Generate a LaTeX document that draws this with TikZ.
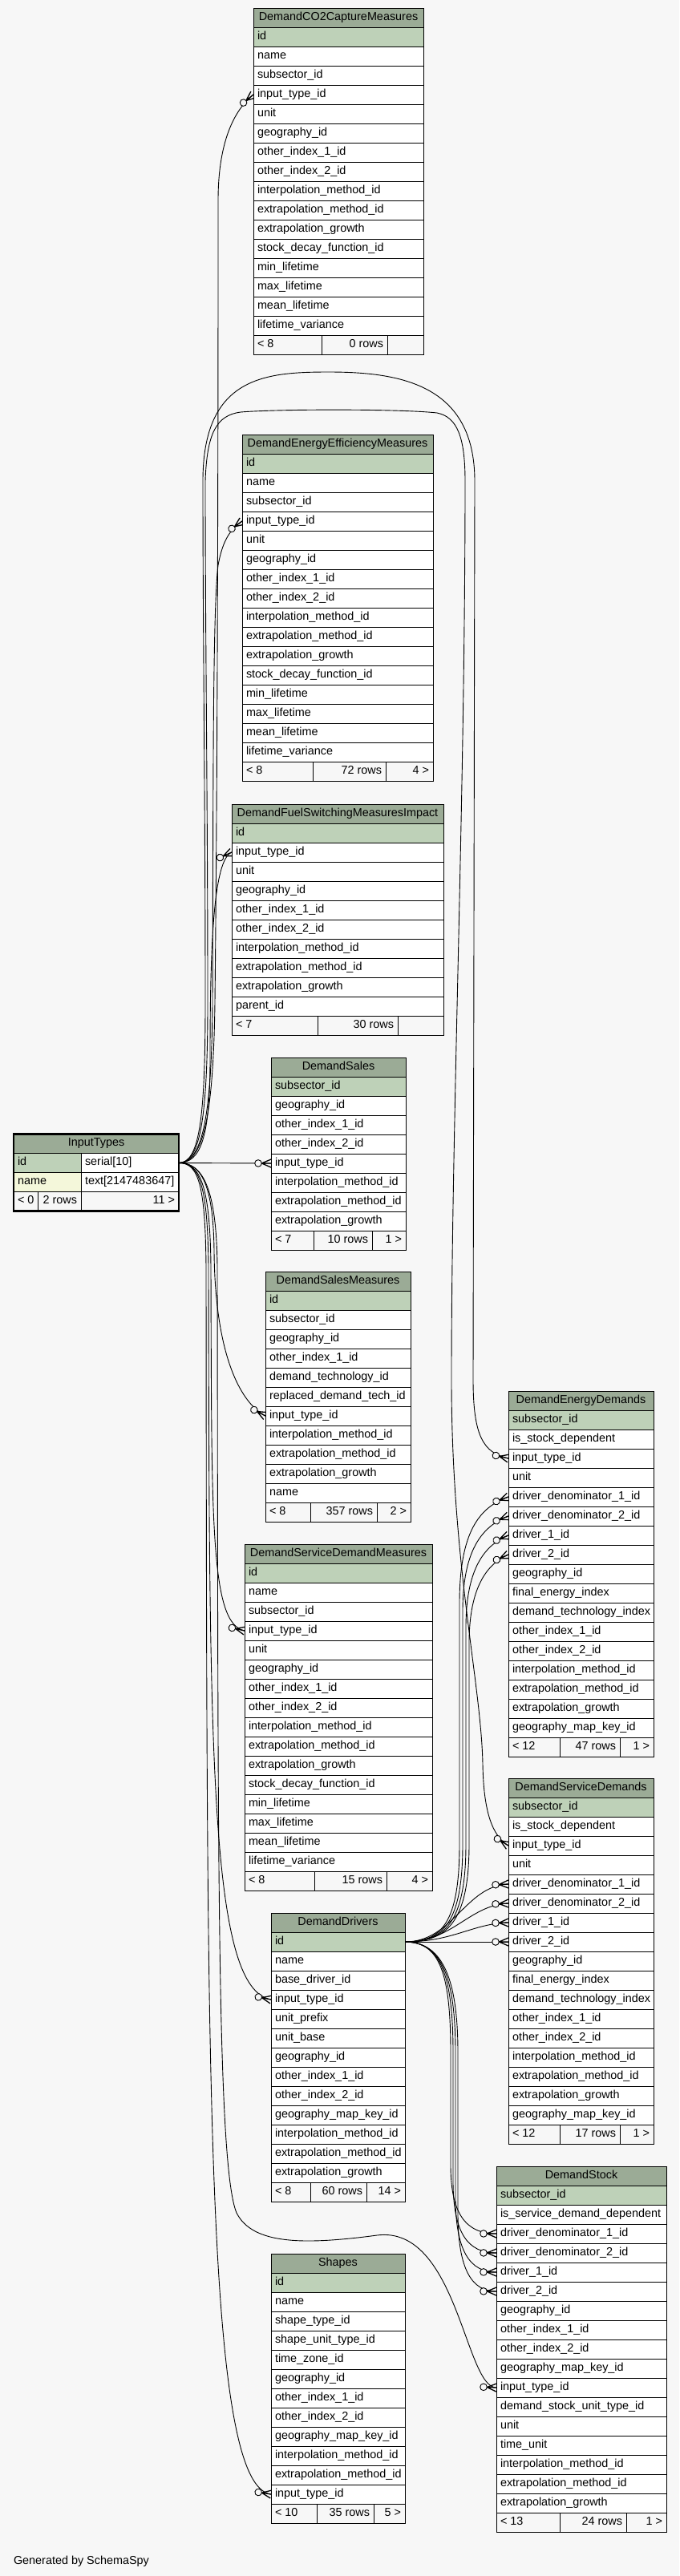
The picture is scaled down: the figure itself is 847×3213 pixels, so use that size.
\documentclass[tikz,border=0pt]{standalone}
\usepackage{fontspec}
\setmainfont{Liberation Sans}
\usetikzlibrary{decorations.markings}
\definecolor{hdrc}{HTML}{9BAB96}
\definecolor{pkc}{HTML}{BED1B8}
\definecolor{idxc}{HTML}{F4F7DA}
\definecolor{bgc}{HTML}{F7F7F7}
\pgfdeclarelayer{bglayer}
\pgfdeclarelayer{wires}
\pgfsetlayers{bglayer,wires,main}
\tikzset{
 cellbox/.style={draw=black, line width=1pt, rectangle, anchor=north west, minimum height=24pt, inner sep=0pt, outer sep=0pt},
 celltext/.style={inner sep=0pt, outer sep=0pt, text height=10pt, text depth=3.5pt, font=\fontsize{14.4}{16}\selectfont},
 fk/.style={draw=black, line width=0.9pt, postaction={decorate, decoration={markings, mark=at position -0.5pt with {\fill[bgc] (-15.5pt,0pt) circle (4.3pt); \draw[line width=0.9pt] (-15.5pt,0pt) circle (4.3pt); \draw[line width=1.3pt] (-11.2pt,0pt) -- (0.5pt,5pt) (-11.2pt,0pt) -- (0.5pt,-5pt) (-11.2pt,0pt) -- (0.5pt,0pt);}}}},
}
\newcommand\dbtable[6]{%
  \pgfmathsetmacro\tw{#3-#2}%
  \node[cellbox, fill=hdrc, minimum width=\tw pt] (#1r0) at (#2,#4) {};
  \node[celltext] (#1t0) at (#1r0.center) {#5};
  \foreach \rowtxt [count=\i] in {#6} {%
    \pgfmathsetmacro\yy{#4+24*\i}%
    \ifnum\i=1 \def\fc{pkc}\else\def\fc{white}\fi
    \node[cellbox, fill=\fc, minimum width=\tw pt] (#1r\i) at (#2,\yy) {};
    \node[celltext, anchor=west] (#1t\i) at ([xshift=5pt]#1r\i.west) {\rowtxt};
    \pgfmathsetmacro\fy{#4+24*(\i+1)}%
    \xdef\footy{\fy}%
  }%
}
\newcommand\dbfoot[8]{%
  \pgfmathsetmacro\wa{#4-#2}\pgfmathsetmacro\wb{#5-#4}\pgfmathsetmacro\wc{#3-#5}%
  \node[cellbox, fill=bgc, minimum width=\wa pt] (#1fa) at (#2,\footy) {};
  \node[cellbox, fill=bgc, minimum width=\wb pt] (#1fb) at (#4,\footy) {};
  \node[cellbox, fill=bgc, minimum width=\wc pt] (#1fc) at (#5,\footy) {};
  \node[celltext, anchor=west] (#1ta) at ([xshift=5pt]#1fa.west) {#6};
  \node[celltext, anchor=east] (#1tb) at ([xshift=-5pt]#1fb.east) {#7};
  \node[celltext, anchor=east] (#1tc) at ([xshift=-5pt]#1fc.east) {#8};
}
\begin{document}
\begin{tikzpicture}[x=1pt,y=-1pt]
\useasboundingbox (0,0) rectangle (847,3213);
\begin{pgfonlayer}{bglayer}
\fill[bgc] (0,0) rectangle (847,3213);
\end{pgfonlayer}

% ---------- tables ----------
\dbtable{co2}{316}{528}{10}{DemandCO2CaptureMeasures}{id,name,subsector\_id,input\_type\_id,unit,geography\_id,other\_index\_1\_id,other\_index\_2\_id,interpolation\_method\_id,extrapolation\_method\_id,extrapolation\_growth,stock\_decay\_function\_id,min\_lifetime,max\_lifetime,mean\_lifetime,lifetime\_variance}
\dbfoot{co2}{316}{528}{401}{483}{< 8}{0 rows}{}

\dbtable{deem}{302}{540}{542}{DemandEnergyEfficiencyMeasures}{id,name,subsector\_id,input\_type\_id,unit,geography\_id,other\_index\_1\_id,other\_index\_2\_id,interpolation\_method\_id,extrapolation\_method\_id,extrapolation\_growth,stock\_decay\_function\_id,min\_lifetime,max\_lifetime,mean\_lifetime,lifetime\_variance}
\dbfoot{deem}{302}{540}{390}{481}{< 8}{72 rows}{4 >}

\dbtable{dfs}{289}{553}{1003}{DemandFuelSwitchingMeasuresImpact}{id,input\_type\_id,unit,geography\_id,other\_index\_1\_id,other\_index\_2\_id,interpolation\_method\_id,extrapolation\_method\_id,extrapolation\_growth,parent\_id}
\dbfoot{dfs}{289}{553}{396}{496}{< 7}{30 rows}{}

\dbtable{sal}{338}{506}{1319}{DemandSales}{subsector\_id,geography\_id,other\_index\_1\_id,other\_index\_2\_id,input\_type\_id,interpolation\_method\_id,extrapolation\_method\_id,extrapolation\_growth}
\dbfoot{sal}{338}{506}{391}{464}{< 7}{10 rows}{1 >}

\dbtable{dsm}{331}{512}{1586}{DemandSalesMeasures}{id,subsector\_id,geography\_id,other\_index\_1\_id,demand\_technology\_id,replaced\_demand\_tech\_id,input\_type\_id,interpolation\_method\_id,extrapolation\_method\_id,extrapolation\_growth,name}
\dbfoot{dsm}{331}{512}{387}{470}{< 8}{357 rows}{2 >}

\dbtable{ded}{634}{815}{1735}{DemandEnergyDemands}{subsector\_id,is\_stock\_dependent,input\_type\_id,unit,driver\_denominator\_1\_id,driver\_denominator\_2\_id,driver\_1\_id,driver\_2\_id,geography\_id,final\_energy\_index,demand\_technology\_index,other\_index\_1\_id,other\_index\_2\_id,interpolation\_method\_id,extrapolation\_method\_id,extrapolation\_growth,geography\_map\_key\_id}
\dbfoot{ded}{634}{815}{698}{773}{< 12}{47 rows}{1 >}

\dbtable{dsdm}{305}{539}{1926}{DemandServiceDemandMeasures}{id,name,subsector\_id,input\_type\_id,unit,geography\_id,other\_index\_1\_id,other\_index\_2\_id,interpolation\_method\_id,extrapolation\_method\_id,extrapolation\_growth,stock\_decay\_function\_id,min\_lifetime,max\_lifetime,mean\_lifetime,lifetime\_variance}
\dbfoot{dsdm}{305}{539}{392}{482}{< 8}{15 rows}{4 >}

\dbtable{dsd}{634}{815}{2218}{DemandServiceDemands}{subsector\_id,is\_stock\_dependent,input\_type\_id,unit,driver\_denominator\_1\_id,driver\_denominator\_2\_id,driver\_1\_id,driver\_2\_id,geography\_id,final\_energy\_index,demand\_technology\_index,other\_index\_1\_id,other\_index\_2\_id,interpolation\_method\_id,extrapolation\_method\_id,extrapolation\_growth,geography\_map\_key\_id}
\dbfoot{dsd}{634}{815}{698}{773}{< 12}{17 rows}{1 >}

\dbtable{drv}{338}{505}{2386}{DemandDrivers}{id,name,base\_driver\_id,input\_type\_id,unit\_prefix,unit\_base,geography\_id,other\_index\_1\_id,other\_index\_2\_id,geography\_map\_key\_id,interpolation\_method\_id,extrapolation\_method\_id,extrapolation\_growth}
\dbfoot{drv}{338}{505}{387}{457}{< 8}{60 rows}{14 >}

\dbtable{stk}{619}{831}{2702}{DemandStock}{subsector\_id,is\_service\_demand\_dependent,driver\_denominator\_1\_id,driver\_denominator\_2\_id,driver\_1\_id,driver\_2\_id,geography\_id,other\_index\_1\_id,other\_index\_2\_id,geography\_map\_key\_id,input\_type\_id,demand\_stock\_unit\_type\_id,unit,time\_unit,interpolation\_method\_id,extrapolation\_method\_id,extrapolation\_growth}
\dbfoot{stk}{619}{831}{698}{781}{< 13}{24 rows}{1 >}

\dbtable{shp}{338}{505}{2811}{Shapes}{id,name,shape\_type\_id,shape\_unit\_type\_id,time\_zone\_id,geography\_id,other\_index\_1\_id,other\_index\_2\_id,geography\_map\_key\_id,interpolation\_method\_id,extrapolation\_method\_id,input\_type\_id}
\dbfoot{shp}{338}{505}{395}{466}{< 10}{35 rows}{5 >}

% InputTypes (focus table)
\node[cellbox, fill=hdrc, minimum width=206pt] (itr0) at (17,1414.5) {};
\node[celltext] (itt0) at (itr0.center) {InputTypes};
\node[cellbox, fill=pkc, minimum width=84pt] (ita1) at (17,1438.5) {};
\node[cellbox, fill=white, minimum width=122pt] (itb1) at (101,1438.5) {};
\node[celltext, anchor=west] (itta1) at ([xshift=5pt]ita1.west) {id};
\node[celltext, anchor=west] (ittb1) at ([xshift=5pt]itb1.west) {serial[10]};
\node[cellbox, fill=idxc, minimum width=84pt] (ita2) at (17,1462.5) {};
\node[cellbox, fill=white, minimum width=122pt] (itb2) at (101,1462.5) {};
\node[celltext, anchor=west] (itta2) at ([xshift=5pt]ita2.west) {name};
\node[celltext, anchor=west] (ittb2) at ([xshift=5pt]itb2.west) {text[2147483647]};
\node[cellbox, fill=bgc, minimum width=30.7pt] (itfa) at (17,1486.5) {};
\node[cellbox, fill=bgc, minimum width=53.3pt] (itfb) at (47.7,1486.5) {};
\node[cellbox, fill=bgc, minimum width=122pt] (itfc) at (101,1486.5) {};
\node[celltext, anchor=west] (itta) at ([xshift=5pt]itfa.west) {< 0};
\node[celltext, anchor=east] (ittb) at ([xshift=-5pt]itfb.east) {2 rows};
\node[celltext, anchor=east] (ittc) at ([xshift=-5pt]itfc.east) {11 >};
\draw[line width=2.5pt] (17,1414.5) rectangle (223,1510.5);

\node[celltext, anchor=west] (gen) at (17,3195) {Generated by SchemaSpy};

% ---------- connectors ----------
\begin{pgfonlayer}{wires}
% InputTypes -> children
\draw[fk] (itb1.east) -- (salr5.west);
\draw[fk] (itb1.east) .. controls (252,1450) and (266,1400) .. (268,1250) .. controls (272,900) and (272,400) .. (272,250) .. controls (272,170) and (296,134) .. (co2r4.west);
\draw[fk] (itb1.east) .. controls (251,1450) and (264,1400) .. (265,1250) .. controls (266,1000) and (265,760) .. (272,705) .. controls (278,672) and (288,660) .. (deemr4.west);
\draw[fk] (itb1.east) .. controls (250,1450) and (262,1420) .. (262,1320) .. controls (262,1180) and (266,1072) .. (dfsr2.west);
\draw[fk] (itb1.east) .. controls (248,1450) and (256,1400) .. (256,1250) .. controls (256,1000) and (253,800) .. (253,600) .. controls (253,470) and (330,464) .. (410,464) .. controls (500,464) and (592,480) .. (592,600) -- (590,1720) .. controls (590,1790) and (602,1812) .. (dedr3.west);
\draw[fk] (itb1.east) .. controls (249,1450) and (259,1400) .. (259,1250) .. controls (259,1000) and (256,800) .. (256,600) .. controls (258,540) and (270,518) .. (300,514) .. controls (350,510) and (500,510) .. (545,515) .. controls (570,520) and (580,545) .. (580,600) .. controls (580,1000) and (563,1400) .. (563,1720) .. controls (563,1950) and (600,2100) .. (602,2200) .. controls (603,2260) and (614,2290) .. (dsdr3.west);
\draw[fk] (itb1.east) .. controls (252,1450) and (266,1480) .. (267,1560) .. controls (268,1690) and (300,1750) .. (dsmr7.west);
\draw[fk] (itb1.east) .. controls (250,1450) and (262,1480) .. (263,1580) .. controls (264,1900) and (262,2025) .. (dsdmr4.west);
\draw[fk] (itb1.east) .. controls (249,1450) and (259,1480) .. (260,1580) .. controls (261,2200) and (262,2480) .. (drvr4.west);
\draw[fk] (itb1.east) .. controls (248,1450) and (256,1480) .. (257,1580) .. controls (258,2600) and (256,3100) .. (shpr12.west);
\draw[fk] (itb1.east) .. controls (252,1450) and (270,1480) .. (271,1580) .. controls (272,2300) and (270,2700) .. (295,2760) .. controls (315,2800) and (380,2800) .. (470,2788) .. controls (570,2775) and (580,2978) .. (stkr11.west);
% DemandDrivers -> DemandEnergyDemands
\draw[fk] (drvr1.east) .. controls (550,2422) and (573,2400) .. (573,2300) -- (573,2000) .. controls (573,1910) and (598,1880) .. (dedr5.west);
\draw[fk] (drvr1.east) .. controls (552,2422) and (577,2400) .. (577,2300) -- (577,2010) .. controls (577,1935) and (600,1904) .. (dedr6.west);
\draw[fk] (drvr1.east) .. controls (554,2422) and (581,2400) .. (581,2300) -- (581,2030) .. controls (581,1960) and (602,1928) .. (dedr7.west);
\draw[fk] (drvr1.east) .. controls (556,2422) and (585,2400) .. (585,2300) -- (585,2050) .. controls (585,1985) and (604,1952) .. (dedr8.west);
% DemandDrivers -> DemandServiceDemands
\draw[fk] (drvr1.east) .. controls (565,2422) and (580,2352) .. (dsdr5.west);
\draw[fk] (drvr1.east) .. controls (565,2422) and (585,2376) .. (dsdr6.west);
\draw[fk] (drvr1.east) .. controls (565,2422) and (590,2399) .. (dsdr7.west);
\draw[fk] (drvr1.east) -- (dsdr8.west);
% DemandDrivers -> DemandStock
\draw[fk] (drvr1.east) .. controls (548,2422) and (562,2460) .. (562,2560) -- (562,2700) .. controls (562,2760) and (580,2786) .. (stkr3.west);
\draw[fk] (drvr1.east) .. controls (548,2422) and (565,2460) .. (565,2560) -- (565,2720) .. controls (565,2785) and (583,2810) .. (stkr4.west);
\draw[fk] (drvr1.east) .. controls (548,2422) and (568,2460) .. (568,2560) -- (568,2740) .. controls (568,2808) and (586,2834) .. (stkr5.west);
\draw[fk] (drvr1.east) .. controls (548,2422) and (571,2460) .. (571,2560) -- (571,2760) .. controls (571,2832) and (589,2858) .. (stkr6.west);
\end{pgfonlayer}
\end{tikzpicture}
\end{document}
